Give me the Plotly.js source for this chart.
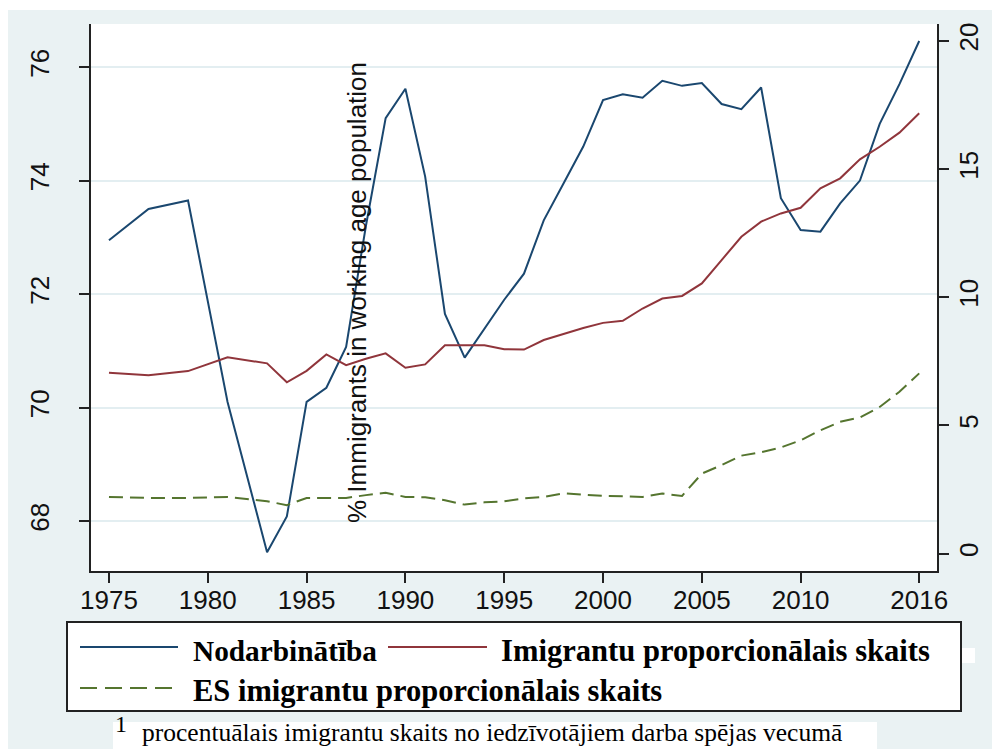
<!DOCTYPE html>
<html>
<head>
<meta charset="utf-8">
<script src="https://cdn.plot.ly/plotly-3.0.1.min.js"></script>
<style>html,body{margin:0;padding:0;background:#fff;}#chart{width:992px;height:749px;}</style>
</head>
<body>
<div id="chart"></div>
<script>
const years = [1975,1976,1977,1978,1979,1980,1981,1982,1983,1984,1985,1986,1987,1988,1989,1990,1991,1992,1993,1994,1995,1996,1997,1998,1999,2000,2001,2002,2003,2004,2005,2006,2007,2008,2009,2010,2011,2012,2013,2014,2015,2016];
const employment = [72.95,null,73.5,null,73.65,null,70.1,null,67.45,68.08,70.1,70.35,71.07,73.2,75.1,75.62,74.07,71.65,70.88,71.4,71.9,72.36,73.3,73.95,74.6,75.42,75.52,75.46,75.76,75.67,75.72,75.35,75.26,75.64,73.69,73.13,73.1,73.6,74.0,75.0,75.7,76.46];
const immigrantShare = [7.05,null,6.96,null,7.12,null,7.66,null,7.42,6.68,7.13,7.77,7.35,7.6,7.81,7.25,7.38,8.13,8.13,8.13,7.97,7.96,8.33,8.57,8.8,9.0,9.08,9.56,9.95,10.05,10.54,11.45,12.36,12.95,13.27,13.49,14.25,14.64,15.38,15.87,16.42,17.18];
const euImmigrantShare = [2.21,null,2.17,null,2.17,null,2.21,null,2.04,1.89,2.17,2.17,2.17,2.28,2.37,2.21,2.2,2.08,1.91,2.0,2.04,2.15,2.21,2.35,2.3,2.25,2.24,2.21,2.34,2.25,3.12,3.45,3.82,3.95,4.14,4.42,4.81,5.14,5.31,5.72,6.31,7.03];
const xTicks = [1975,1980,1985,1990,1995,2000,2005,2010,2016];
const leftTicks = [68,70,72,74,76];
const rightTicks = [0,5,10,15,20];
const seriesNames = ['Nodarbinātība','Imigrantu proporcionālais skaits','ES imigrantu proporcionālais skaits'];
const axisText = '% Immigrants in working age population';
const footnoteText = 'procentuālais imigrantu skaits no iedzīvotājiem darba spējas vecumā';

const C_BLUE = '#1a476f', C_RED = '#90353b', C_GREEN = '#55752f';
const W = 992, H = 749;
const M = {l:91, r:55, t:24, b:178};
const pw = W - M.l - M.r, ph = H - M.t - M.b;
const px = v => (v - M.l) / pw;
const py = v => (H - M.b - v) / ph;

const tickFont = {family:'Liberation Sans, Arial, sans-serif', size:26, color:'#111'};
const legFont = {family:'Liberation Serif, Times New Roman, serif', size:30, color:'#000'};

const traces = [
  {x:years, y:employment, name:seriesNames[0], type:'scatter', mode:'lines', connectgaps:true, line:{color:C_BLUE, width:2}, yaxis:'y'},
  {x:years, y:immigrantShare, name:seriesNames[1], type:'scatter', mode:'lines', connectgaps:true, line:{color:C_RED, width:2}, yaxis:'y2'},
  {x:years, y:euImmigrantShare, name:seriesNames[2], type:'scatter', mode:'lines', connectgaps:true, line:{color:C_GREEN, width:2, dash:'14px,7px'}, yaxis:'y2'}
];

const shapes = [
  {type:'rect', xref:'paper', yref:'paper', x0:px(0), x1:px(W), y0:py(0), y1:py(10), fillcolor:'#fff', line:{width:0}, layer:'below'},
  {type:'rect', xref:'paper', yref:'paper', x0:px(0), x1:px(8), y0:py(0), y1:py(H), fillcolor:'#fff', line:{width:0}, layer:'below'},
  {type:'rect', xref:'paper', yref:'paper', x0:px(67), x1:px(961), y0:py(622), y1:py(711), fillcolor:'#fff', line:{color:'#222', width:2}},
  {type:'rect', xref:'paper', yref:'paper', x0:px(962), x1:px(975), y0:py(648), y1:py(663), fillcolor:'#fff', line:{width:0}},
  {type:'line', xref:'paper', yref:'paper', x0:px(80), x1:px(178), y0:py(647), y1:py(647), line:{color:C_BLUE, width:2}},
  {type:'line', xref:'paper', yref:'paper', x0:px(388), x1:px(487), y0:py(647), y1:py(647), line:{color:C_RED, width:2}},
  {type:'line', xref:'paper', yref:'paper', x0:px(80), x1:px(172), y0:py(688), y1:py(688), line:{color:C_GREEN, width:2, dash:'17px,8px'}},
  {type:'rect', xref:'paper', yref:'paper', x0:px(113), x1:px(877), y0:py(722), y1:py(749), fillcolor:'#fff', line:{width:0}}
];

const annotations = [
  {text:axisText, xref:'paper', yref:'paper', x:px(357), y:py(293), textangle:-90, showarrow:false, xanchor:'center', yanchor:'middle', font:{family:'Liberation Sans, Arial', size:26, color:'#111'}},
  {text:'<b>'+seriesNames[0]+'</b>', xref:'paper', yref:'paper', x:px(191), y:py(651), xanchor:'left', yanchor:'middle', showarrow:false, font:{family:legFont.family, size:29.3, color:'#000'}},
  {text:'<b>'+seriesNames[1]+'</b>', xref:'paper', yref:'paper', x:px(499), y:py(651), xanchor:'left', yanchor:'middle', showarrow:false, font:{family:legFont.family, size:30.6, color:'#000'}},
  {text:'<b>'+seriesNames[2]+'</b>', xref:'paper', yref:'paper', x:px(191), y:py(691), xanchor:'left', yanchor:'middle', showarrow:false, font:{family:legFont.family, size:30.5, color:'#000'}},
  {text:'1', xref:'paper', yref:'paper', x:px(113), y:py(724), xanchor:'left', yanchor:'middle', showarrow:false, font:{family:'Liberation Serif, Times New Roman, serif', size:24, color:'#000'}},
  {text:footnoteText, xref:'paper', yref:'paper', x:px(141), y:py(748), xanchor:'left', yanchor:'bottom', showarrow:false, borderpad:0, font:{family:'Liberation Serif, Times New Roman, serif', size:25.5, color:'#000'}}
];

const layout = {
  width:W, height:H,
  margin:M,
  paper_bgcolor:'#eaf2f3',
  plot_bgcolor:'#ffffff',
  showlegend:false,
  xaxis:{range:[1974.09,2016.9], tickvals:xTicks, ticktext:xTicks.map(String), showgrid:false, zeroline:false,
         showline:true, linecolor:'#222', linewidth:2, ticks:'outside', ticklen:10, tickwidth:2, tickcolor:'#222',
         tickfont:tickFont, ticklabelstandoff:-5},
  yaxis:{range:[67.12,76.76], tickvals:leftTicks, ticktext:leftTicks.map(String), showgrid:true, gridcolor:'#e3eef1', gridwidth:2, zeroline:false,
         showline:true, linecolor:'#222', linewidth:2, ticks:'outside', ticklen:10, tickwidth:2, tickcolor:'#222',
         tickangle:-90, tickfont:tickFont, ticklabelstandoff:20},
  yaxis2:{range:[-0.68,20.66], tickvals:rightTicks, ticktext:rightTicks.map(String), overlaying:'y', side:'right', showgrid:false, zeroline:false,
         showline:true, linecolor:'#222', linewidth:2, ticks:'outside', ticklen:10, tickwidth:2, tickcolor:'#222',
         tickangle:-90, tickfont:tickFont, ticklabelstandoff:-2},
  shapes:shapes,
  annotations:annotations
};

Plotly.newPlot('chart', traces, layout, {displayModeBar:false, staticPlot:true});
</script>
</body>
</html>
